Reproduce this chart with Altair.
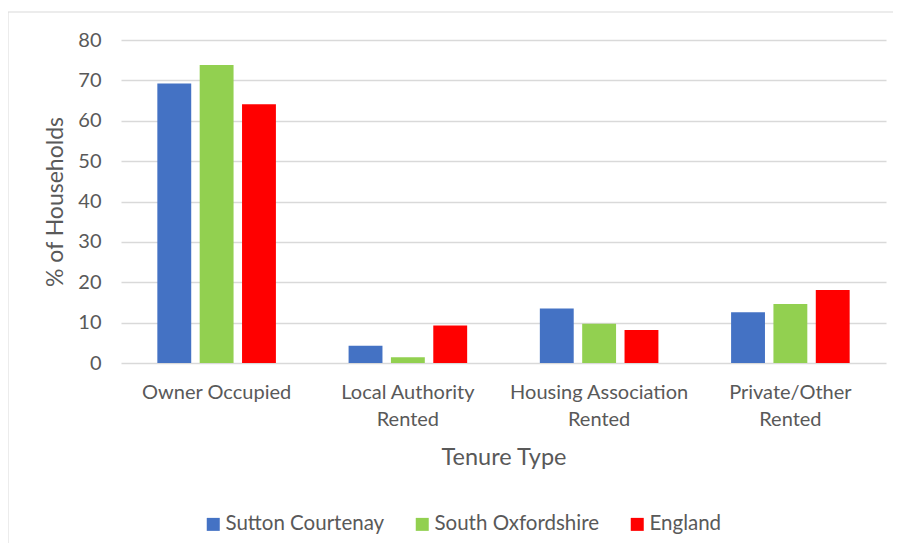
import altair as alt
import pandas as pd

categories = ["Owner Occupied", "Local Authority Rented", "Housing Association Rented", "Private/Other Rented"]
series = ["Sutton Courtenay", "South Oxfordshire", "England"]
sutton = [69.2, 4.3, 13.5, 12.6]
south_oxon = [73.8, 1.4, 9.7, 14.6]
england = [64.1, 9.3, 8.2, 18.1]
colors = ["#4472C4", "#92D050", "#FF0000"]

rows = []
for s, vals in zip(series, [sutton, south_oxon, england]):
    for c, v in zip(categories, vals):
        rows.append({"Tenure": c, "Area": s, "Value": v})
df = pd.DataFrame(rows)

FONT = "Lato"
GREY = "#595959"

bars = alt.Chart(df).mark_bar().encode(
    x=alt.X("Tenure:N", sort=categories,
            scale=alt.Scale(paddingInner=0.38, paddingOuter=0.19),
            axis=alt.Axis(title="Tenure Type", labelAngle=0, domain=False, ticks=False,
                          labelExpr="datum.label == 'Owner Occupied' ? datum.label : [replace(datum.label, ' Rented', ''), 'Rented']",
                          labelPadding=19, labelLineHeight=27, labelFontSize=20, labelColor=GREY,
                          titleFontSize=23.5, titleColor=GREY, titleFontWeight="normal", titlePadding=16)),
    xOffset=alt.XOffset("Area:N", sort=series, scale=alt.Scale(paddingInner=0.2)),
    y=alt.Y("Value:Q", scale=alt.Scale(domain=[0, 80]),
            axis=alt.Axis(title="% of Households", values=list(range(0, 81, 10)), domain=False, ticks=False,
                          labelPadding=20, labelFontSize=20, labelColor=GREY,
                          titleFontSize=23, titleColor=GREY, titleFontWeight="normal", titlePadding=10,
                          gridColor="#d9d9d9", gridWidth=1.3)),
    color=alt.Color("Area:N", sort=series, scale=alt.Scale(domain=series, range=colors),
                    legend=alt.Legend(title=None, orient="none", direction="horizontal",
                                      legendX=82, legendY=474, symbolType="square", symbolSize=169,
                                      symbolStrokeWidth=0, labelFontSize=20.5, labelColor=GREY,
                                      labelOffset=2, columnPadding=27, labelLimit=400)),
)

border = alt.Chart(pd.DataFrame({"k": [0]})).mark_rect(fill=None, stroke="#d9d9d9", strokeWidth=1).encode(
    x=alt.value(-113), x2=alt.value(900), y=alt.value(-28), y2=alt.value(700)
)

chart = alt.layer(border, bars).properties(
    width=765, height=323,
    autosize=alt.AutoSizeParams(type="none"),
    padding={"left": 113, "top": 32, "right": 7, "bottom": 180},
).configure(font=FONT).configure_view(stroke=None)

chart.save("out.html", embed_options={"renderer": "svg", "actions": False})
